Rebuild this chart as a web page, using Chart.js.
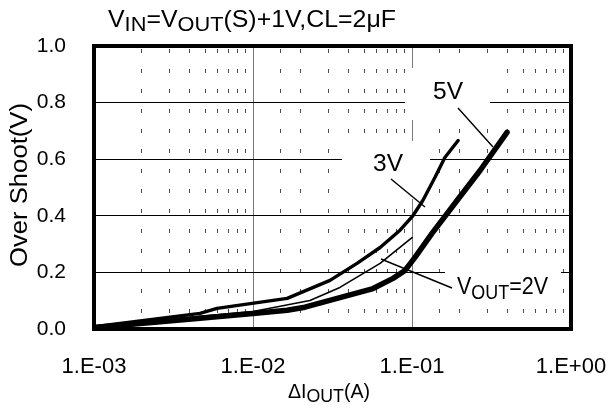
<!DOCTYPE html>
<html><head><meta charset="utf-8">
<script src="https://cdn.jsdelivr.net/npm/chart.js@4.4.1/dist/chart.umd.min.js"></script>
<style>html,body{margin:0;padding:0;background:#fff;overflow:hidden}#wrap{width:610px;height:409px;position:relative}</style>
</head><body><div id="wrap"><canvas id="c" width="610" height="409"></canvas></div>
<script>
// ---- data ----
const xDecades = [0.001, 0.01, 0.1, 1];
const xTickLabels = ['1.E-03', '1.E-02', '1.E-01', '1.E+00'];
const yTickValues = [0, 0.2, 0.4, 0.6, 0.8, 1.0];

const seriesNames = ['VOUT=2V', '3V', '5V'];

const current2V = [0.001, 0.00464, 0.01, 0.0228, 0.0352, 0.063, 0.1];
const overshoot2V = [0.006, 0.045, 0.062, 0.101, 0.147, 0.232, 0.323];

const current3V = [0.001, 0.00464, 0.00594, 0.0164, 0.0305, 0.0451, 0.063, 0.0841, 0.1015, 0.117, 0.1396, 0.161, 0.195];
const overshoot3V = [0.008, 0.055, 0.073, 0.108, 0.172, 0.232, 0.288, 0.349, 0.401, 0.454, 0.536, 0.606, 0.666];

const current5V = [0.001, 0.00464, 0.01, 0.0164, 0.0212, 0.0352, 0.0569, 0.076, 0.0904, 0.1044, 0.1336, 0.192, 0.268, 0.396];
const overshoot5V = [0.005, 0.038, 0.055, 0.066, 0.077, 0.111, 0.143, 0.179, 0.207, 0.253, 0.338, 0.454, 0.560, 0.695];

// ---- helpers ----
const FONT = "'Liberation Sans', Arial, sans-serif";
const pts = (xs, ys) => xs.map((x, i) => ({ x: x, y: ys[i] }));
const isDecade = v => Math.abs(Math.log10(v) - Math.round(Math.log10(v))) < 1e-6;

function drawRich(ctx, segs, x, y, targetWidth, rot) {
  ctx.save();
  let w = 0;
  segs.forEach(s => { ctx.font = s.size + 'px ' + FONT; w += ctx.measureText(s.t).width; });
  const k = targetWidth / w;
  ctx.translate(x, y);
  if (rot) ctx.rotate(rot);
  ctx.scale(k, 1);
  ctx.fillStyle = '#000';
  ctx.textBaseline = 'alphabetic';
  ctx.textAlign = 'left';
  let cx = 0;
  segs.forEach(s => {
    ctx.font = s.size + 'px ' + FONT;
    ctx.fillText(s.t, cx, s.dy || 0);
    cx += ctx.measureText(s.t).width;
  });
  ctx.restore();
}

const overlay = {
  id: 'overlay',
  beforeDatasetsDraw(chart) {
    const ctx = chart.ctx;
    ctx.save();
    ctx.fillStyle = '#fff';
    ctx.fillRect(405, 68, 85, 52);   // 5V label box
    ctx.fillRect(342, 141, 88, 58);  // 3V label box
    ctx.fillRect(445, 265, 116, 38); // VOUT=2V label box
    ctx.restore();
  },
  afterDatasetsDraw(chart) {
    const ctx = chart.ctx, a = chart.chartArea;
    ctx.save();
    ctx.strokeStyle = '#000';
    ctx.lineWidth = 4;
    ctx.strokeRect(a.left, a.top, a.right - a.left, a.bottom - a.top);
    // leader lines
    ctx.lineWidth = 1.4;
    ctx.beginPath();
    ctx.moveTo(458, 108); ctx.lineTo(493, 147);
    ctx.moveTo(391, 179); ctx.lineTo(425, 207);
    ctx.moveTo(381, 259); ctx.lineTo(452, 288);
    ctx.stroke();
    ctx.restore();
    // series labels
    drawRich(ctx, [{ t: '5V', size: 23 }], 433, 99, 30);
    drawRich(ctx, [{ t: '3V', size: 23 }], 373, 171, 30);
    drawRich(ctx, [{ t: 'V', size: 24 }, { t: 'OUT', size: 20, dy: 5 }, { t: '=2V', size: 24 }], 457, 294, 91);
  },
  afterDraw(chart) {
    const ctx = chart.ctx;
    drawRich(ctx, [
      { t: 'V', size: 24 }, { t: 'IN', size: 21, dy: 4 },
      { t: '=V', size: 24 }, { t: 'OUT', size: 21, dy: 4 },
      { t: '(S)+1V,CL=2\u03BCF', size: 24 }
    ], 108, 27, 288);
    drawRich(ctx, [{ t: '\u0394I', size: 21 }, { t: 'OUT', size: 19, dy: 3.5 }, { t: '(A)', size: 21 }], 288, 398, 82);
    drawRich(ctx, [{ t: 'Over Shoot(V)', size: 23 }], 26.5, 267, 164, -Math.PI / 2);
  }
};

const noPad = s => { s.paddingLeft = 0; s.paddingRight = 0; s.paddingTop = 0; s.paddingBottom = 0; };

new Chart(document.getElementById('c'), {
  type: 'line',
  data: {
    datasets: [
      { label: seriesNames[0], data: pts(current2V, overshoot2V), borderColor: '#000', borderWidth: 1.6, xAxisID: 'x', yAxisID: 'y' },
      { label: seriesNames[1], data: pts(current3V, overshoot3V), borderColor: '#000', borderWidth: 3.4, xAxisID: 'x', yAxisID: 'y' },
      { label: seriesNames[2], data: pts(current5V, overshoot5V), borderColor: '#000', borderWidth: 5.5, xAxisID: 'x', yAxisID: 'y' }
    ]
  },
  options: {
    responsive: false,
    animation: false,
    devicePixelRatio: 1,
    layout: { padding: { left: 0, right: 39, top: 46, bottom: 0 } },
    elements: {
      point: { radius: 0, hoverRadius: 0 },
      line: { tension: 0, fill: false, borderCapStyle: 'round', borderJoinStyle: 'round' }
    },
    plugins: { legend: { display: false }, tooltip: { enabled: false }, title: { display: false } },
    scales: {
      x: {
        type: 'logarithmic', position: 'bottom',
        min: xDecades[0], max: xDecades[xDecades.length - 1],
        afterFit: s => { s.height = 80; noPad(s); },
        ticks: {
          autoSkip: false, maxRotation: 0, padding: 25, color: '#000',
          font: { family: FONT, size: 22 },
          callback: v => {
            if (!isDecade(v)) return '';
            const i = xDecades.findIndex(d => Math.abs(d - v) / d < 1e-6);
            return i >= 0 ? xTickLabels[i] : '';
          }
        },
        grid: {
          drawTicks: false, lineWidth: 1,
          color: c => (c.tick && isDecade(c.tick.value)) ? '#7a7a7a' : 'rgba(0,0,0,0)'
        },
        border: { display: false }
      },
      x2: {
        type: 'logarithmic', position: 'top',
        min: xDecades[0], max: xDecades[xDecades.length - 1],
        afterFit: s => { s.height = 0; noPad(s); },
        ticks: { display: false },
        grid: {
          drawTicks: false, lineWidth: 1,
          color: c => (c.tick && !isDecade(c.tick.value)) ? '#4a4a4a' : 'rgba(0,0,0,0)'
        },
        border: { display: false, dash: [4, 16], dashOffset: 17 }
      },
      y: {
        type: 'linear', position: 'left',
        min: yTickValues[0], max: yTickValues[yTickValues.length - 1],
        afterFit: s => { s.width = 94; noPad(s); },
        afterBuildTicks: s => { s.ticks = yTickValues.map(v => ({ value: v })); },
        ticks: {
          padding: 28, color: '#000',
          font: { family: FONT, size: 21 },
          callback: v => Number(v).toFixed(1)
        },
        grid: {
          drawTicks: false, lineWidth: 1,
          color: c => (c.tick && c.tick.value > 0.01 && c.tick.value < 0.99) ? '#000' : 'rgba(0,0,0,0)'
        },
        border: { display: false }
      }
    }
  },
  plugins: [overlay]
});
</script>
</body></html>
